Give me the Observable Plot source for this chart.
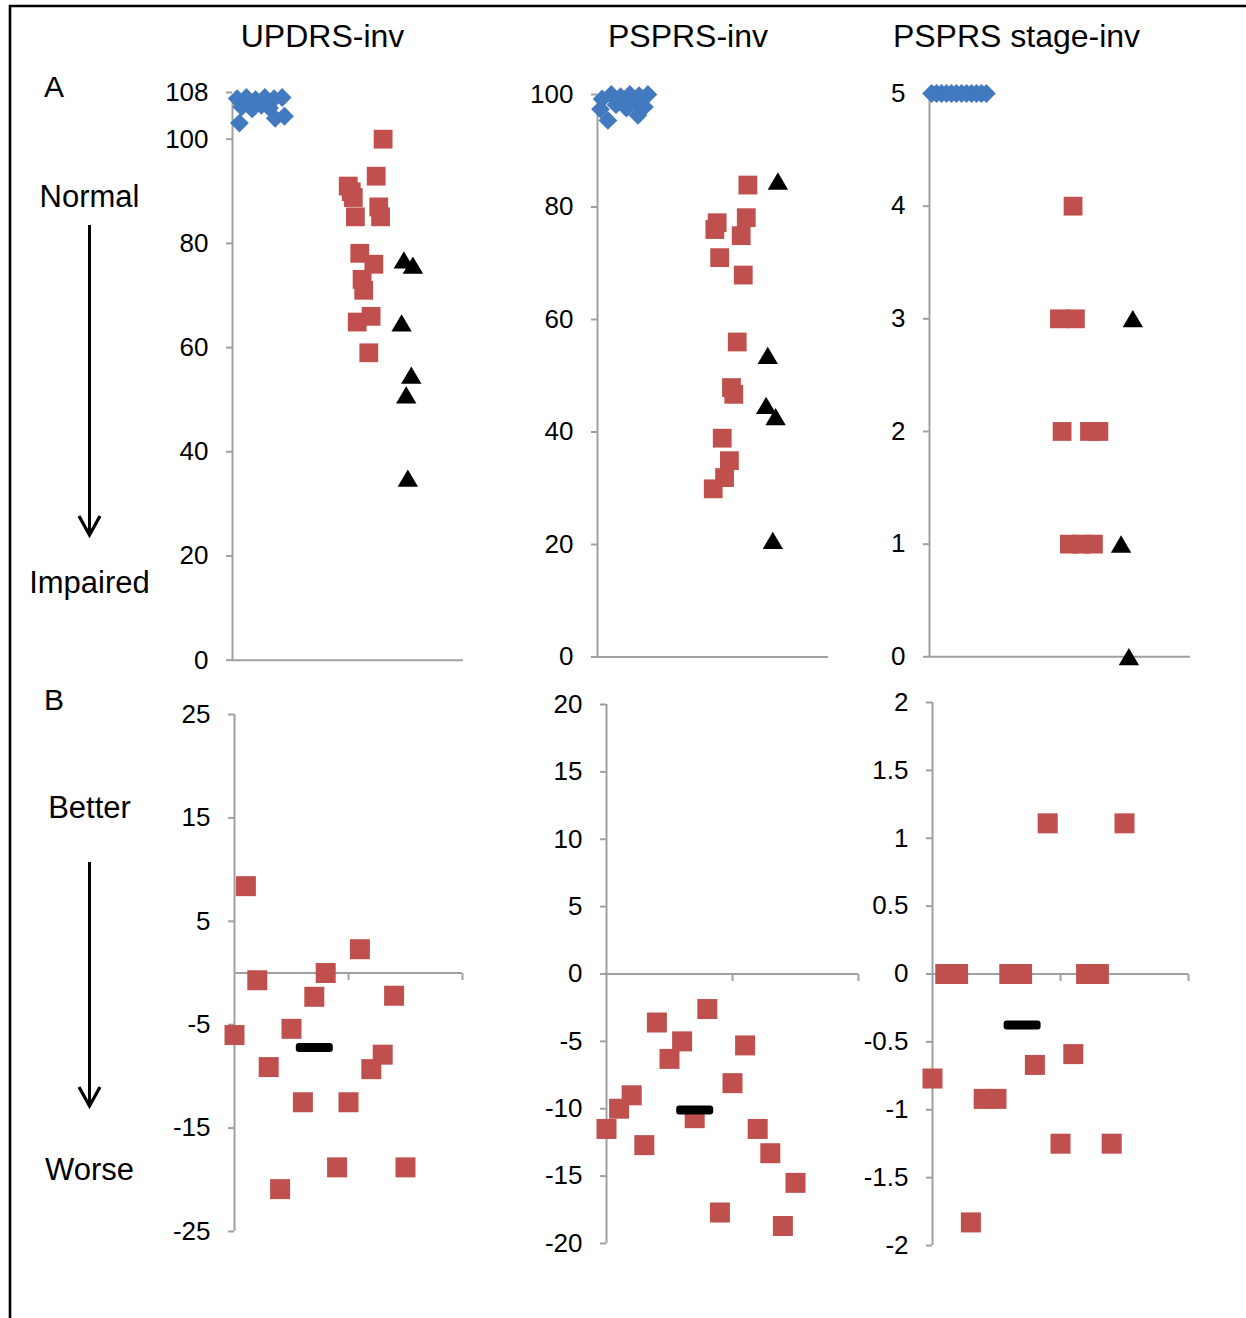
<!DOCTYPE html>
<html>
<head>
<meta charset="utf-8">
<script src="https://cdn.jsdelivr.net/npm/d3@7"></script>
<script src="https://cdn.jsdelivr.net/npm/@observablehq/plot@0.6"></script>
<style>
  html, body { margin: 0; padding: 0; background: #fff; }
  #fig { position: relative; width: 1246px; height: 1318px; overflow: hidden;
         font-family: "Liberation Sans", Arial, sans-serif; background: #fff; }
  #fig svg { position: absolute; overflow: visible; }
</style>
</head>
<body>
<div id="fig"></div>
<script>
// ---------------- DATA ----------------
const columnTitles = ["UPDRS-inv", "PSPRS-inv", "PSPRS stage-inv"];
const rowLetters = ["A", "B"];
const rowALabels = ["Normal", "Impaired"];
const rowBLabels = ["Better", "Worse"];

// Panel A: [horizontal jitter position (0–100), score]
const updrsControls = [[2.0,107.8],[6.0,108],[10.0,107.6],[14.0,108],[18.0,107.8],[21.5,108],
                       [4.0,106.2],[8.5,105.8],[12.5,106.5],[16.0,106],[3.0,103.1],[18.5,104.0],[22.5,104.4]];
const updrsPSP = [[65.2,100],[62.2,92.9],[50.1,91.0],[51.4,89.9],[52.3,88.8],[53.2,85.1],[63.3,87.0],
                  [64.1,85.1],[55.1,78.1],[61.2,76.0],[56.1,73.1],[56.8,71.0],[54.0,64.9],[60.0,66.0],[59.0,59.0]];
const updrsOther = [[74.2,76.8],[78.1,75.8],[73.2,64.7],[77.4,54.7],[75.2,50.9],[75.9,34.9]];

const psprsControls = [[2.0,99.2],[6.0,100],[10.0,99.6],[14.0,100],[18.0,99.8],[21.8,100],
                       [1.3,97.4],[8.0,98.2],[12.5,97.6],[16.5,98.4],[20.3,97.8],[4.5,95.4],[17.5,96.3]];
const psprsPSP = [[65.1,83.9],[51.8,77.2],[50.8,76.0],[64.4,78.1],[62.2,74.9],[52.9,71.0],[63.1,67.9],
                  [60.5,56.0],[58.0,47.9],[59.0,46.7],[54.0,38.9],[57.1,34.9],[55.0,31.9],[50.1,29.9]];
const psprsOther = [[78.1,84.6],[73.7,53.6],[73.0,44.7],[77.1,42.7],[75.9,20.7]];

const stageControls = [[0.8,5],[2.7,5],[4.6,5],[6.5,5],[8.4,5],[10.3,5],[12.3,5],[14.2,5],[16.1,5],[18.0,5],[19.9,5],[21.8,5]];
const stagePSP = [[55.0,4],[49.8,3],[55.9,3],[50.8,2],[61.3,2],[64.9,2],[53.6,1],[58.2,1],[62.8,1]];
const stageOther = [[77.9,3],[73.4,1],[76.4,0]];

// Panel B: change per patient (patient index 0..15), and group mean
const updrsChange = [-6.0, 8.4, -0.7, -9.1, -20.9, -5.4, -12.5, -2.3, 0, -18.8, -12.5, 2.3, -9.3, -7.9, -2.2, -18.8];
const psprsChange = [-11.5, -10.0, -9.0, -12.7, -3.6, -6.3, -5.0, -10.7, -2.6, -17.7, -8.1, -5.3, -11.5, -13.3, -18.7, -15.5];
const stageChange = [-0.77, 0, 0, -1.83, -0.92, -0.92, 0, 0, -0.67, 1.11, -1.25, -0.59, 0, 0, -1.25, 1.11];
const changeMeans = [-7.2, -10.1, -0.375];
const meanPosition = 7;

// Axis ticks
const updrsTicks = [0, 20, 40, 60, 80, 100];
const updrsMaxTick = [108];
const psprsTicks = [0, 20, 40, 60, 80, 100];
const stageTicks = [0, 1, 2, 3, 4, 5];
const updrsChangeTicks = [-25, -15, -5, 5, 15, 25];
const psprsChangeTicks = [-20, -15, -10, -5, 0, 5, 10, 15, 20];
const stageChangeTicks = [-2, -1.5, -1, -0.5, 0, 0.5, 1, 1.5, 2];
const bXAxisTicks = [10, 20];

// ---------------- STYLE ----------------
const BLUE = "#4279BF", RED = "#C0504D", BLACK = "#000", GRAY = "#A0A0A0";
const FONT = '"Liberation Sans", Arial, sans-serif';

const diamond = {draw(c) { const r = 9.4; c.moveTo(0,-r); c.lineTo(r,0); c.lineTo(0,r); c.lineTo(-r,0); c.closePath(); }};
const square = s => ({draw(c) { c.rect(-s/2, -s/2, s, s); }});
const triangle = {draw(c) { c.moveTo(0,-8.8); c.lineTo(10.2,8.5); c.lineTo(-10.2,8.5); c.closePath(); }};
const meanBar = {draw(c) {
  const w = 37, h = 9, r = 3, x = -w/2, y = -h/2;
  c.moveTo(x + r, y); c.lineTo(x + w - r, y); c.arcTo(x + w, y, x + w, y + r, r);
  c.lineTo(x + w, y + h - r); c.arcTo(x + w, y + h, x + w - r, y + h, r);
  c.lineTo(x + r, y + h); c.arcTo(x, y + h, x, y + h - r, r);
  c.lineTo(x, y + r); c.arcTo(x, y, x + r, y, r); c.closePath();
}};
const tickDown = {draw(c) { c.moveTo(0, 0); c.lineTo(0, 7); }};

const fig = document.getElementById("fig");
const axisOpts = {tickSize: 6, tickPadding: 18, tickFormat: d => String(d), stroke: GRAY, strokeWidth: 2,
                  fill: BLACK, fontSize: 26, label: null};

function panel(g) {
  const mL = 90, mR = 20, mT = 20, mB = 20;
  const width = g.x1 - g.x0 + mL + mR;
  const height = g.yBot - g.yTop + mT + mB;
  const marks = [
    Plot.ruleX([{x: g.xDomain[0], y1: g.yDomain[0], y2: g.yDomain[1]}], {x: "x", y1: "y1", y2: "y2", stroke: GRAY, strokeWidth: 2}),
    Plot.ruleY([{y: 0, x1: g.xDomain[0], x2: g.xDomain[1]}], {y: "y", x1: "x1", x2: "x2", stroke: GRAY, strokeWidth: 2}),
    Plot.axisY(g.yTicks, axisOpts)
  ];
  if (g.maxTick) marks.push(Plot.axisY(g.maxTick, {...axisOpts, dy: -5}));
  if (g.xTicks) {
    marks.push(Plot.dot(g.xTicks, {x: d => d, y: d => 0, symbol: tickDown, stroke: GRAY, strokeWidth: 2, fill: "none"}));
  }
  marks.push(...g.marks);
  const svg = Plot.plot({
    width, height, marginLeft: mL, marginRight: mR, marginTop: mT, marginBottom: mB,
    x: {domain: g.xDomain, axis: null},
    y: {domain: g.yDomain, axis: null},
    style: {fontFamily: FONT, fontSize: "26px", color: "#000", background: "transparent", overflow: "visible"},
    marks
  });
  svg.style.left = (g.x0 - mL) + "px";
  svg.style.top = (g.yTop - mT) + "px";
  fig.appendChild(svg);
}

const pairDots = (data, symbol, fill) =>
  Plot.dot(data, {x: d => d[0], y: d => d[1], symbol, fill, stroke: "none"});

function groupMarks(ctrl, psp, other, sq) {
  return [
    pairDots(ctrl, diamond, BLUE),
    pairDots(psp, square(sq), RED),
    pairDots(other, triangle, BLACK)
  ];
}
function changeMarks(values, mean) {
  return [
    Plot.dot(values, {x: (d, i) => i, y: d => d, symbol: square(20), fill: RED, stroke: "none"}),
    Plot.dot([mean], {x: () => meanPosition, y: d => d, symbol: meanBar, fill: BLACK, stroke: "none"})
  ];
}

// Row A
panel({x0: 232, x1: 463, yTop: 97.3, yBot: 660, xDomain: [0, 100], yDomain: [0, 108], yTicks: updrsTicks, maxTick: updrsMaxTick,
       marks: groupMarks(updrsControls, updrsPSP, updrsOther, 18.8)});
panel({x0: 597, x1: 828, yTop: 94, yBot: 656.5, xDomain: [0, 100], yDomain: [0, 100], yTicks: psprsTicks,
       marks: groupMarks(psprsControls, psprsPSP, psprsOther, 18.8)});
panel({x0: 929, x1: 1190, yTop: 92.7, yBot: 656, xDomain: [0, 100], yDomain: [0, 5], yTicks: stageTicks,
       marks: groupMarks(stageControls, stagePSP, stageOther, 18.8)});
// Row B
panel({x0: 234, x1: 462, yTop: 713.5, yBot: 1230.5, xDomain: [0, 20], yDomain: [-25, 25], yTicks: updrsChangeTicks,
       xTicks: bXAxisTicks, marks: changeMarks(updrsChange, changeMeans[0])});
panel({x0: 606, x1: 858, yTop: 704, yBot: 1243, xDomain: [0, 20], yDomain: [-20, 20], yTicks: psprsChangeTicks,
       xTicks: bXAxisTicks, marks: changeMarks(psprsChange, changeMeans[1])});
panel({x0: 932, x1: 1188, yTop: 702, yBot: 1245, xDomain: [0, 20], yDomain: [-2, 2], yTicks: stageChangeTicks,
       xTicks: bXAxisTicks, marks: changeMarks(stageChange, changeMeans[2])});

// ---------------- ANNOTATIONS (titles, row labels, arrows, frame) ----------------
const ns = "http://www.w3.org/2000/svg";
const ov = document.createElementNS(ns, "svg");
ov.setAttribute("width", 1246); ov.setAttribute("height", 1318);
ov.style.left = "0px"; ov.style.top = "0px";
ov.setAttribute("font-family", FONT);
function el(name, attrs, text) {
  const e = document.createElementNS(ns, name);
  for (const k in attrs) e.setAttribute(k, attrs[k]);
  if (text != null) e.textContent = text;
  ov.appendChild(e);
  return e;
}
// frame
el("path", {d: "M10,1330 L10,6 L1260,6", fill: "none", stroke: "#000", "stroke-width": 2.6});
// column titles
const titleX = [322.5, 688, 1016.5];
columnTitles.forEach((t, i) => el("text", {x: titleX[i], y: 47, "text-anchor": "middle", "font-size": 32, fill: "#000"}, t));
// row letters
el("text", {x: 44, y: 97, "font-size": 30, fill: "#000"}, rowLetters[0]);
el("text", {x: 44, y: 710, "font-size": 30, fill: "#000"}, rowLetters[1]);
// side labels
el("text", {x: 89.5, y: 206.5, "text-anchor": "middle", "font-size": 31, fill: "#000"}, rowALabels[0]);
el("text", {x: 89.5, y: 592.5, "text-anchor": "middle", "font-size": 31, fill: "#000"}, rowALabels[1]);
el("text", {x: 89.5, y: 818, "text-anchor": "middle", "font-size": 31, fill: "#000"}, rowBLabels[0]);
el("text", {x: 89.5, y: 1180, "text-anchor": "middle", "font-size": 31, fill: "#000"}, rowBLabels[1]);
// arrows
function arrow(x, y0, y1) {
  el("line", {x1: x, x2: x, y1: y0, y2: y1 - 1, stroke: "#000", "stroke-width": 3});
  el("path", {d: `M${x - 10.5},${y1 - 19} L${x},${y1} L${x + 10.5},${y1 - 19}`, fill: "none", stroke: "#000", "stroke-width": 3.2});
}
arrow(89.5, 225, 535);
arrow(89.5, 862, 1106);
fig.insertBefore(ov, fig.firstChild);
</script>
</body>
</html>
